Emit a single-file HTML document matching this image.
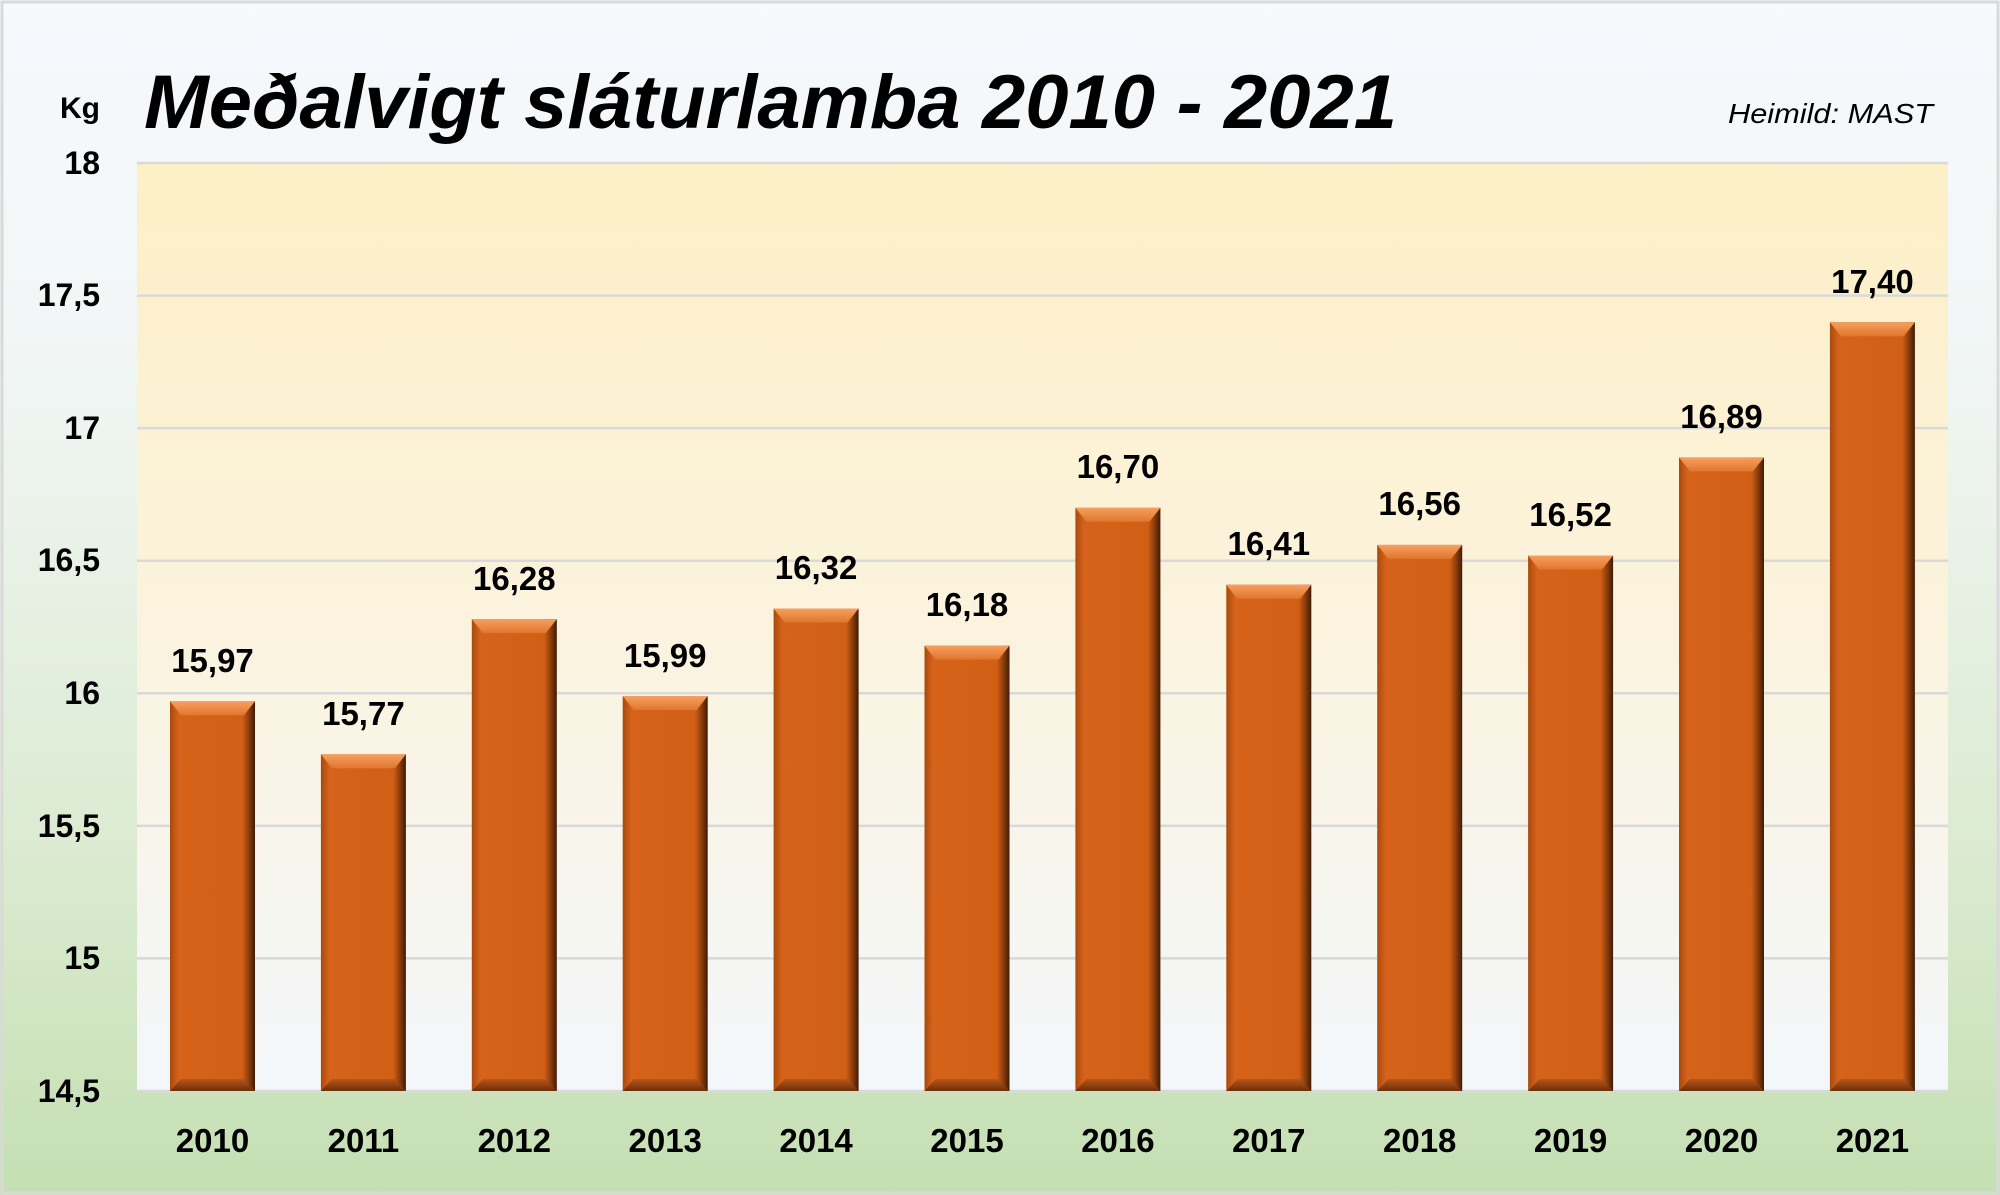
<!DOCTYPE html>
<html><head><meta charset="utf-8"><style>html,body{margin:0;padding:0;background:#fff}svg{display:block}</style></head>
<body>
<svg width="2000" height="1195" viewBox="0 0 2000 1195" xmlns="http://www.w3.org/2000/svg" font-family="'Liberation Sans', sans-serif">
<defs>
<linearGradient id="bg" x1="0" y1="0" x2="0" y2="1">
<stop offset="0" stop-color="#f6f9fd"/><stop offset="0.3" stop-color="#f1f6f5"/><stop offset="0.7" stop-color="#dcebd2"/><stop offset="1" stop-color="#c4dfb2"/></linearGradient>
<linearGradient id="pa" x1="0" y1="0" x2="0" y2="1">
<stop offset="0" stop-color="#fdefc6"/><stop offset="0.5" stop-color="#fbf3de"/><stop offset="1" stop-color="#f3f7fb"/></linearGradient>
<linearGradient id="body" x1="0" y1="0" x2="1" y2="0">
<stop offset="0" stop-color="#a9490c"/><stop offset="0.1" stop-color="#d6631b"/><stop offset="0.85" stop-color="#d25f16"/><stop offset="0.93" stop-color="#8a3c0c"/><stop offset="1" stop-color="#3e1c06"/></linearGradient>
<linearGradient id="top" x1="0" y1="0" x2="0" y2="1">
<stop offset="0" stop-color="#f6a060"/><stop offset="1" stop-color="#e0762e"/></linearGradient>
<linearGradient id="bot" x1="0" y1="0" x2="0" y2="1">
<stop offset="0" stop-color="#b9551a"/><stop offset="1" stop-color="#6a3009"/></linearGradient>
</defs>
<rect x="0" y="0" width="2000" height="1195" fill="url(#bg)"/>
<rect x="2" y="2" width="1996" height="1191" fill="none" stroke="#d9d9d9" stroke-width="3"/>
<rect x="137" y="163" width="1811" height="928" fill="url(#pa)"/>
<g stroke="#d9d9d9" stroke-width="2.5">
<line x1="137" x2="1948" y1="163" y2="163"/><line x1="137" x2="1948" y1="295.6" y2="295.6"/><line x1="137" x2="1948" y1="428.1" y2="428.1"/><line x1="137" x2="1948" y1="560.7" y2="560.7"/><line x1="137" x2="1948" y1="693.3" y2="693.3"/><line x1="137" x2="1948" y1="825.9" y2="825.9"/><line x1="137" x2="1948" y1="958.4" y2="958.4"/><line x1="137" x2="1948" y1="1091" y2="1091"/>
</g>
<text x="144" y="128" font-size="76" font-weight="bold" font-style="italic" textLength="1253" lengthAdjust="spacingAndGlyphs">Meðalvigt sláturlamba 2010 - 2021</text>
<text x="100" y="118" font-size="30" font-weight="bold" text-anchor="end">Kg</text>
<text x="1933" y="123" font-size="28" font-style="italic" text-anchor="end" textLength="205" lengthAdjust="spacingAndGlyphs">Heimild: MAST</text>
<g font-size="32" font-weight="bold" text-anchor="end">
<text x="100" y="174">18</text><text x="100" y="306">17,5</text><text x="100" y="439">17</text><text x="100" y="571">16,5</text><text x="100" y="704">16</text><text x="100" y="837">15,5</text><text x="100" y="969">15</text><text x="100" y="1102">14,5</text>
</g>
<g id="bars">
<g transform="translate(170,701.3)"><rect width="85" height="389.7" fill="url(#body)"/><polygon points="0,0 85,0 74,14 11,14" fill="url(#top)"/><polygon points="0,389.7 85,389.7 74,377.7 11,377.7" fill="url(#bot)"/></g>
<g transform="translate(320.9,754.3)"><rect width="85" height="336.7" fill="url(#body)"/><polygon points="0,0 85,0 74,14 11,14" fill="url(#top)"/><polygon points="0,336.7 85,336.7 74,324.7 11,324.7" fill="url(#bot)"/></g>
<g transform="translate(471.8,619.1)"><rect width="85" height="471.9" fill="url(#body)"/><polygon points="0,0 85,0 74,14 11,14" fill="url(#top)"/><polygon points="0,471.9 85,471.9 74,459.9 11,459.9" fill="url(#bot)"/></g>
<g transform="translate(622.7,696)"><rect width="85" height="395" fill="url(#body)"/><polygon points="0,0 85,0 74,14 11,14" fill="url(#top)"/><polygon points="0,395 85,395 74,383 11,383" fill="url(#bot)"/></g>
<g transform="translate(773.6,608.5)"><rect width="85" height="482.5" fill="url(#body)"/><polygon points="0,0 85,0 74,14 11,14" fill="url(#top)"/><polygon points="0,482.5 85,482.5 74,470.5 11,470.5" fill="url(#bot)"/></g>
<g transform="translate(924.5,645.6)"><rect width="85" height="445.4" fill="url(#body)"/><polygon points="0,0 85,0 74,14 11,14" fill="url(#top)"/><polygon points="0,445.4 85,445.4 74,433.4 11,433.4" fill="url(#bot)"/></g>
<g transform="translate(1075.4,507.8)"><rect width="85" height="583.2" fill="url(#body)"/><polygon points="0,0 85,0 74,14 11,14" fill="url(#top)"/><polygon points="0,583.2 85,583.2 74,571.2 11,571.2" fill="url(#bot)"/></g>
<g transform="translate(1226.3,584.7)"><rect width="85" height="506.3" fill="url(#body)"/><polygon points="0,0 85,0 74,14 11,14" fill="url(#top)"/><polygon points="0,506.3 85,506.3 74,494.3 11,494.3" fill="url(#bot)"/></g>
<g transform="translate(1377.2,544.9)"><rect width="85" height="546.1" fill="url(#body)"/><polygon points="0,0 85,0 74,14 11,14" fill="url(#top)"/><polygon points="0,546.1 85,546.1 74,534.1 11,534.1" fill="url(#bot)"/></g>
<g transform="translate(1528.1,555.5)"><rect width="85" height="535.5" fill="url(#body)"/><polygon points="0,0 85,0 74,14 11,14" fill="url(#top)"/><polygon points="0,535.5 85,535.5 74,523.5 11,523.5" fill="url(#bot)"/></g>
<g transform="translate(1679,457.4)"><rect width="85" height="633.6" fill="url(#body)"/><polygon points="0,0 85,0 74,14 11,14" fill="url(#top)"/><polygon points="0,633.6 85,633.6 74,621.6 11,621.6" fill="url(#bot)"/></g>
<g transform="translate(1829.9,322.2)"><rect width="85" height="768.8" fill="url(#body)"/><polygon points="0,0 85,0 74,14 11,14" fill="url(#top)"/><polygon points="0,768.8 85,768.8 74,756.8 11,756.8" fill="url(#bot)"/></g>
</g>
<g font-size="33" font-weight="bold" text-anchor="middle">
<text x="212.5" y="672">15,97</text><text x="363.4" y="725">15,77</text><text x="514.3" y="590">16,28</text><text x="665.2" y="667">15,99</text><text x="816.1" y="579">16,32</text><text x="967" y="616">16,18</text><text x="1117.9" y="478">16,70</text><text x="1268.8" y="555">16,41</text><text x="1419.7" y="515">16,56</text><text x="1570.6" y="526">16,52</text><text x="1721.5" y="428">16,89</text><text x="1872.4" y="293">17,40</text>
</g>
<g font-size="33" font-weight="bold" text-anchor="middle">
<text x="212.5" y="1152">2010</text><text x="363.4" y="1152">2011</text><text x="514.3" y="1152">2012</text><text x="665.2" y="1152">2013</text><text x="816.1" y="1152">2014</text><text x="967" y="1152">2015</text><text x="1117.9" y="1152">2016</text><text x="1268.8" y="1152">2017</text><text x="1419.7" y="1152">2018</text><text x="1570.6" y="1152">2019</text><text x="1721.5" y="1152">2020</text><text x="1872.4" y="1152">2021</text>
</g>
</svg>
</body></html>
